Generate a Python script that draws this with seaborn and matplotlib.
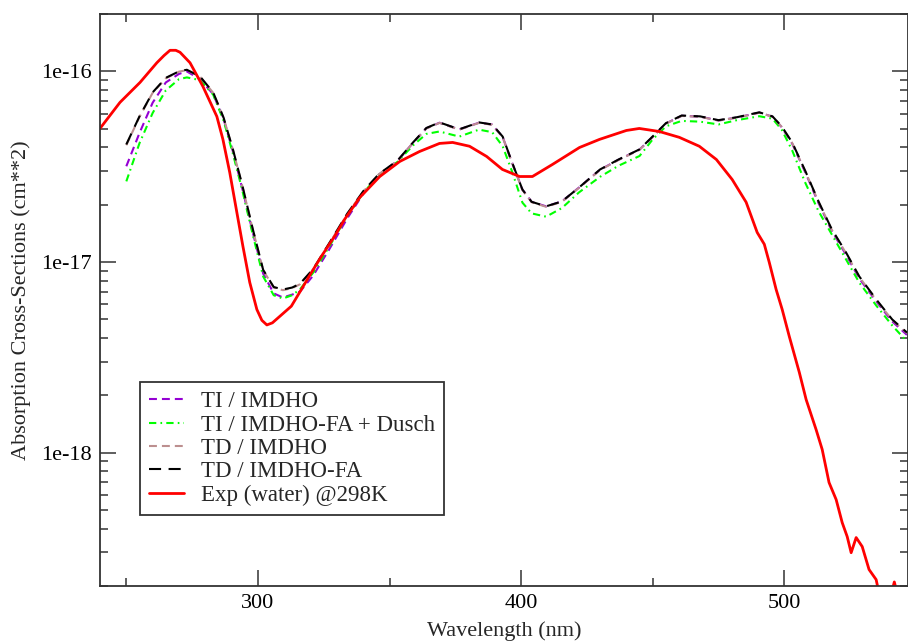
import numpy as np
import pandas as pd
import matplotlib
matplotlib.use("Agg")
import matplotlib.pyplot as plt
from matplotlib.ticker import FixedLocator, FuncFormatter, LogLocator, NullFormatter
import seaborn as sns

# ---------------- data ----------------
model_wl = [250, 255, 260, 265, 270, 273, 278, 283, 287, 290.5, 294, 298, 302, 306,
            309.5, 313, 316, 321, 327, 334, 340, 346, 353, 359, 364, 369, 376.5, 384,
            389, 393, 396.5, 400.5, 404, 409.5, 415.5, 422, 430, 437, 445, 450, 455,
            461, 468, 475, 482, 490.5, 495.5, 499, 503, 508, 513, 518, 523.5, 528.5,
            535, 541, 546.6]

td_imdho_fa = [4.14e-17, 5.81e-17, 7.76e-17, 9.25e-17, 1.0e-16, 1.02e-16, 9.41e-17,
               7.76e-17, 5.7e-17, 3.9e-17, 2.55e-17, 1.5e-17, 9.1e-18, 7.4e-18,
               7.18e-18, 7.35e-18, 7.7e-18, 9.2e-18, 1.25e-17, 1.8e-17, 2.35e-17,
               2.9e-17, 3.4e-17, 4.25e-17, 5.05e-17, 5.4e-17, 4.97e-17, 5.4e-17,
               5.27e-17, 4.55e-17, 3.35e-17, 2.4e-17, 2.07e-17, 1.96e-17, 2.08e-17,
               2.46e-17, 3.06e-17, 3.45e-17, 3.9e-17, 4.56e-17, 5.35e-17, 5.87e-17,
               5.81e-17, 5.55e-17, 5.75e-17, 6.1e-17, 5.81e-17, 5.15e-17, 4.24e-17,
               3.0e-17, 2.08e-17, 1.49e-17, 1.12e-17, 8.4e-18, 6.35e-18, 5.0e-18, 4.27e-18]

td_imdho = [4.1e-17, 5.78e-17, 7.72e-17, 9.2e-17, 9.97e-17, 1.015e-16, 9.38e-17,
            7.72e-17, 5.68e-17, 3.88e-17, 2.53e-17, 1.49e-17, 9.05e-18, 7.35e-18,
            7.12e-18, 7.3e-18, 7.65e-18, 9.15e-18, 1.24e-17, 1.79e-17, 2.34e-17,
            2.89e-17, 3.39e-17, 4.23e-17, 5.02e-17, 5.37e-17, 4.95e-17, 5.37e-17,
            5.25e-17, 4.52e-17, 3.33e-17, 2.39e-17, 2.06e-17, 1.95e-17, 2.07e-17,
            2.45e-17, 3.04e-17, 3.43e-17, 3.88e-17, 4.53e-17, 5.32e-17, 5.84e-17,
            5.78e-17, 5.52e-17, 5.72e-17, 6.07e-17, 5.78e-17, 5.12e-17, 4.21e-17,
            2.98e-17, 2.07e-17, 1.48e-17, 1.11e-17, 8.35e-18, 6.3e-18, 4.97e-18, 4.24e-18]

ti_imdho = [3.18e-17, 4.75e-17, 6.85e-17, 8.75e-17, 9.7e-17, 1.0e-16, 9.1e-17,
            7.6e-17, 5.6e-17, 3.8e-17, 2.45e-17, 1.44e-17, 8.7e-18, 6.85e-18,
            6.52e-18, 6.75e-18, 7.0e-18, 8.5e-18, 1.16e-17, 1.7e-17, 2.28e-17,
            2.88e-17, 3.39e-17, 4.23e-17, 5.03e-17, 5.38e-17, 4.96e-17, 5.38e-17,
            5.26e-17, 4.53e-17, 3.34e-17, 2.4e-17, 2.07e-17, 1.96e-17, 2.08e-17,
            2.46e-17, 3.05e-17, 3.44e-17, 3.89e-17, 4.54e-17, 5.33e-17, 5.85e-17,
            5.79e-17, 5.53e-17, 5.73e-17, 6.08e-17, 5.79e-17, 5.1e-17, 4.18e-17,
            2.95e-17, 2.04e-17, 1.46e-17, 1.09e-17, 8.2e-18, 6.2e-18, 4.88e-18, 4.15e-18]

ti_imdho_fa_dusch = [2.65e-17, 4.2e-17, 6.05e-17, 7.95e-17, 9.1e-17, 9.3e-17, 9.0e-17,
                     7.55e-17, 5.5e-17, 3.7e-17, 2.4e-17, 1.4e-17, 8.4e-18, 6.7e-18,
                     6.44e-18, 6.7e-18, 7.2e-18, 8.8e-18, 1.2e-17, 1.75e-17, 2.3e-17,
                     2.87e-17, 3.35e-17, 4.1e-17, 4.7e-17, 4.84e-17, 4.55e-17, 4.95e-17,
                     4.8e-17, 4.05e-17, 3.0e-17, 2.05e-17, 1.8e-17, 1.73e-17, 1.92e-17,
                     2.32e-17, 2.8e-17, 3.2e-17, 3.6e-17, 4.4e-17, 5.15e-17, 5.5e-17,
                     5.45e-17, 5.27e-17, 5.55e-17, 5.82e-17, 5.65e-17, 4.95e-17, 3.85e-17,
                     2.6e-17, 1.85e-17, 1.4e-17, 1.03e-17, 7.8e-18, 5.9e-18, 4.65e-18, 3.83e-18]

exp_wl = [240, 247.6, 255.2, 261.6, 264.3, 266.6, 268.8, 270.4, 274.2, 279.1, 284.4,
          286.7, 289.3, 292.0, 294.3, 296.9, 299.6, 301.5, 303.4, 305.5, 308.3, 312.7,
          316.5, 320.3, 324.1, 329.2, 333.0, 338.7, 346.3, 353.9, 361.4, 369.0, 374.0,
          380.4, 386.9, 392.9, 399.4, 404.3, 411.9, 422.2, 429.8, 440.0, 444.9, 452.5,
          460.1, 467.7, 474.2, 480.2, 485.5, 489.7, 492.4, 494.3, 496.9, 499.2, 501.9,
          505.7, 508.3, 512.1, 514.4, 517.0, 519.7, 522.0, 523.9, 525.4, 527.3, 529.6,
          532.2, 534.9, 536.5, 539.0, 541.0, 541.8, 542.6, 544.5]
exp_water = [5.02e-17, 6.88e-17, 8.75e-17, 1.11e-16, 1.21e-16, 1.29e-16, 1.29e-16,
             1.26e-16, 1.11e-16, 8.34e-17, 5.8e-17, 4.4e-17, 2.95e-17, 1.82e-17,
             1.21e-17, 7.82e-18, 5.64e-18, 4.95e-18, 4.68e-18, 4.8e-18, 5.19e-18,
             5.87e-18, 7.18e-18, 8.8e-18, 1.07e-17, 1.37e-17, 1.68e-17, 2.18e-17,
             2.81e-17, 3.37e-17, 3.8e-17, 4.19e-17, 4.24e-17, 4.05e-17, 3.58e-17,
             3.06e-17, 2.81e-17, 2.81e-17, 3.25e-17, 3.99e-17, 4.4e-17, 4.9e-17,
             5.02e-17, 4.84e-17, 4.51e-17, 4.05e-17, 3.45e-17, 2.71e-17, 2.06e-17,
             1.43e-17, 1.24e-17, 9.95e-18, 7.18e-18, 5.64e-18, 4.07e-18, 2.64e-18,
             1.9e-18, 1.32e-18, 1.04e-18, 6.98e-19, 5.68e-19, 4.3e-19, 3.63e-19,
             2.99e-19, 3.59e-19, 3.22e-19, 2.44e-19, 2.16e-19, 1.7e-19, 1.5e-19,
             1.9e-19, 2.1e-19, 1.9e-19, 1.5e-19]

x_ticks = [300, 400, 500]
x_minor_ticks = [250, 350, 450]
y_ticks = [1e-18, 1e-17, 1e-16]
y_tick_labels = ["1e-18", "1e-17", "1e-16"]

# ---------------- style ----------------
sns.set_style("ticks")
plt.rcParams["font.family"] = ["Liberation Serif", "DejaVu Serif"]

FS = 16

fig = plt.figure(figsize=(9.08, 6.41), dpi=100)
ax = fig.add_axes([100 / 908, 1 - 586 / 641, 808 / 908, (586 - 14) / 641])

series = [
    ("TI / IMDHO", model_wl, ti_imdho, "#9400d3", (0, (3.8, 2.4)), 1.5),
    ("TI / IMDHO-FA + Dusch", model_wl, ti_imdho_fa_dusch, "#00ff00", (0, (3.5, 2.0, 0.8, 2.0)), 1.5),
    ("TD / IMDHO", model_wl, td_imdho, "#bc8f8f", (0, (3.8, 2.4)), 1.5),
    ("TD / IMDHO-FA", model_wl, td_imdho_fa, "#000000", (0, (5.8, 3.6)), 1.5),
    ("Exp (water) @298K", exp_wl, exp_water, "#ff0000", "-", 2.0),
]

for label, xs, ys, color, ls, lw in series:
    df = pd.DataFrame({"wl": xs, "sigma": ys})
    sns.lineplot(data=df, x="wl", y="sigma", ax=ax, color=color, linestyle=ls,
                 linewidth=lw, label=label, sort=False, estimator=None)

ax.set_yscale("log")
ax.set_xlim(240, 547)
ax.set_ylim(2e-19, 2e-16)

ax.xaxis.set_major_locator(FixedLocator(x_ticks))
ax.xaxis.set_minor_locator(FixedLocator(x_minor_ticks))
ax.yaxis.set_major_locator(FixedLocator(y_ticks))
lab_map = dict(zip(y_ticks, y_tick_labels))
ax.yaxis.set_major_formatter(FuncFormatter(lambda v, p: lab_map.get(v, "")))
ax.yaxis.set_minor_locator(LogLocator(base=10, subs=np.arange(2, 10), numticks=20))
ax.yaxis.set_minor_formatter(NullFormatter())

ax.tick_params(which="both", direction="in", top=True, right=True, colors="#333333",
               labelcolor="black", labelsize=FS, pad=6)
ax.tick_params(which="major", length=11.5, width=1.1)
ax.tick_params(which="minor", length=5.8, width=1.1)
for sp in ax.spines.values():
    sp.set_visible(True)
    sp.set_linewidth(1.3)
    sp.set_color("#333333")

ax.set_xlabel("Wavelength (nm)", fontsize=FS, labelpad=6)
ax.set_ylabel("Absorption Cross-Sections (cm**2)", fontsize=FS, labelpad=7)

leg = ax.legend(loc="lower left", bbox_to_anchor=(40 / 808, (586 - 515) / 572),
                borderaxespad=0, fontsize=16.5, frameon=True, fancybox=False,
                shadow=False, handlelength=1.53, handletextpad=0.74,
                labelspacing=0.1, borderpad=0.4)
leg.get_frame().set_edgecolor("#333333")
leg.get_frame().set_linewidth(1.3)
leg.get_frame().set_alpha(1)

fig.savefig("out.png", dpi=100)
